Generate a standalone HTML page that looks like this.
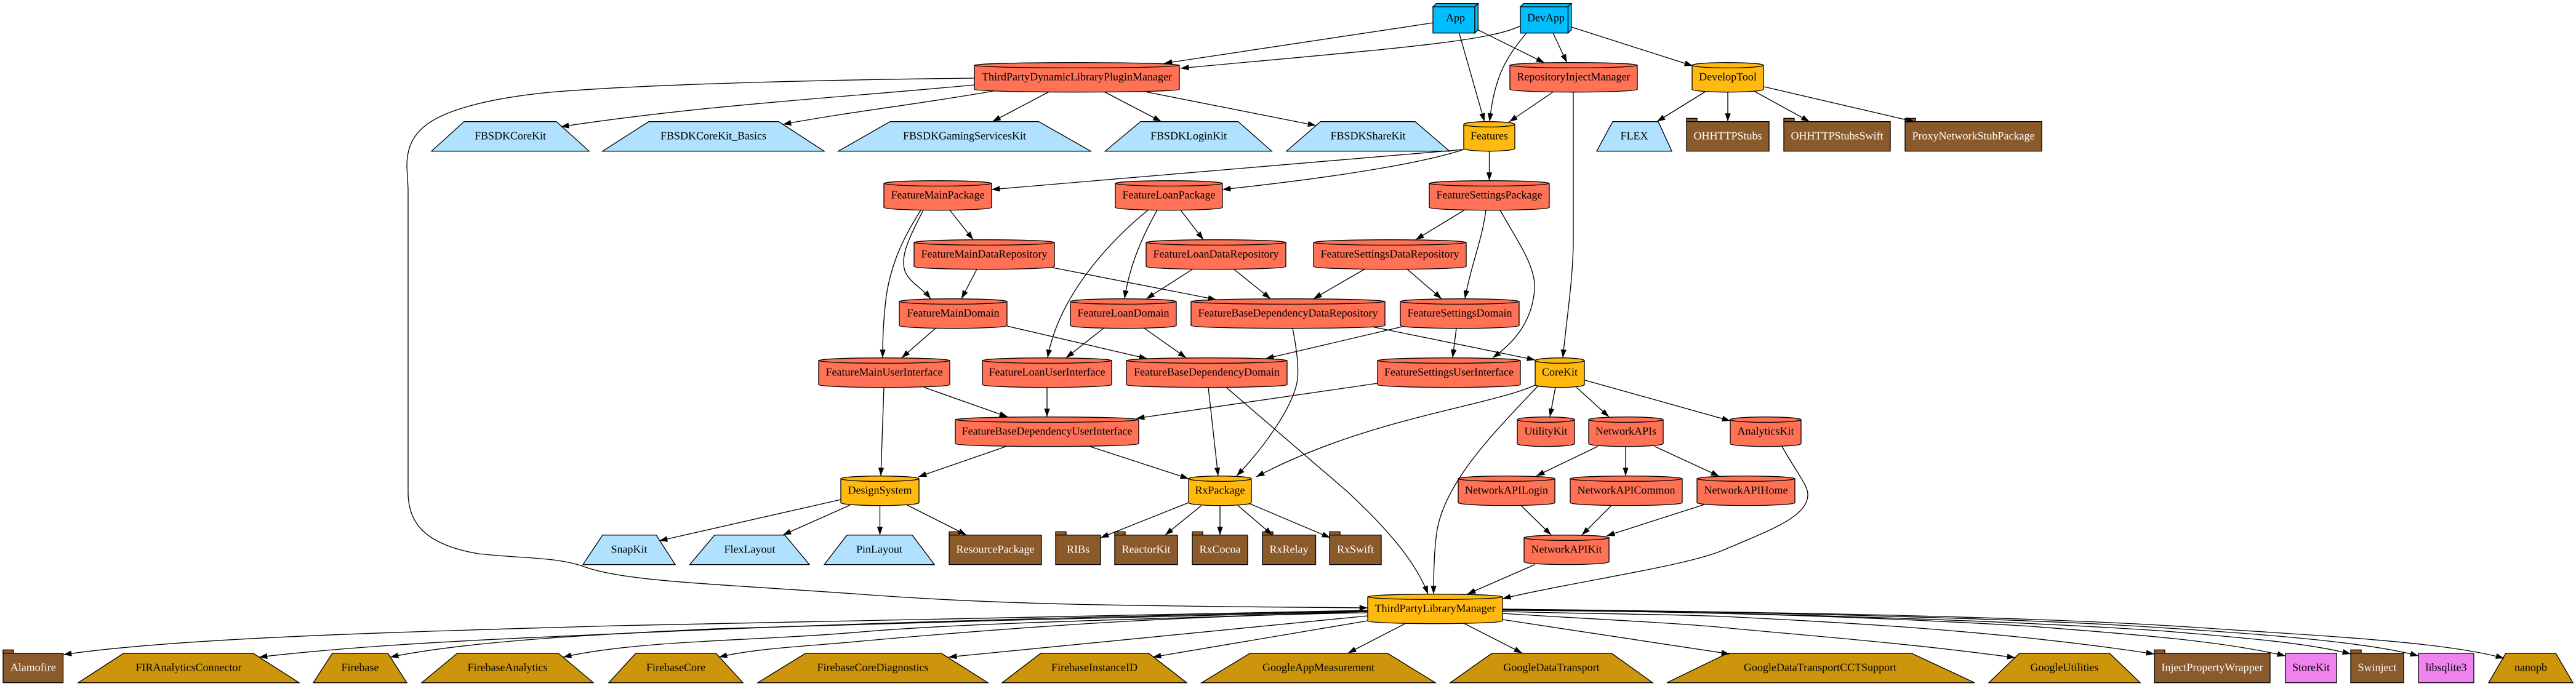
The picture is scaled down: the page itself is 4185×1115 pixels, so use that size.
<!DOCTYPE html>
<html lang="en">
<head>
<meta charset="utf-8">
<title>Dependency graph</title>
<style>
html,body{margin:0;padding:0;background:#fff;width:4185px;height:1115px;overflow:hidden}
svg{display:block}
.n path,.n rect{stroke:#000;stroke-width:1.33}
.n text{font-family:"Liberation Serif","Times New Roman",serif;font-size:18px;text-anchor:middle;fill:#000;stroke:none;text-rendering:geometricPrecision}
.r path{fill:#ff7256}
.o path{fill:#ffb90f}
.b path{fill:#b0e2ff}
.g path{fill:#cd950c}
.t path,.t rect{fill:#8b5a2b}
.t text{fill:#fff}
.d path{fill:#00bfff}
.v rect{fill:#ee82ee}
.e path{fill:none;stroke:#000;stroke-width:1.33;marker-end:url(#a)}
</style>
</head>
<body>
<svg xmlns="http://www.w3.org/2000/svg" width="4185" height="1115" viewBox="0 0 4185 1115">
<defs><marker id="a" markerUnits="userSpaceOnUse" markerWidth="16" markerHeight="12" refX="14" refY="6" orient="auto"><path d="M0.7 1.33L14 6L0.7 10.67Z" fill="#000"/></marker></defs>
<rect width="4185" height="1115" fill="#fff"/>

<g class="n">
<!-- Row 0 -->
<g transform="translate(0,5.67)">
<g class="d"><path d="M2328 5.33H2396V48H2328Z"/><path d="M2328 5.33L2333.33 0H2401.33L2396 5.33Z"/><path d="M2396 5.33L2401.33 0V42.67L2396 48Z"/><text x="2364.5" y="29">App</text></g>
<g class="d"><path d="M2470 5.33H2547.5V48H2470Z"/><path d="M2470 5.33L2475.33 0H2552.83L2547.5 5.33Z"/><path d="M2547.5 5.33L2552.83 0V42.67L2547.5 48Z"/><text x="2511.5" y="29">DevApp</text></g>
</g>
<!-- Row 1 -->
<g transform="translate(0,101.67)">
<g class="r"><path d="M1583 4.36A166.5 4.36 0 0 1 1916 4.36V43.64A166.5 4.36 0 0 1 1583 43.64ZM1916 4.36A166.5 4.36 0 0 1 1583 4.36"/><text x="1749.5" y="29">ThirdPartyDynamicLibraryPluginManager</text></g>
<g class="r"><path d="M2453 4.36A103.5 4.36 0 0 1 2660 4.36V43.64A103.5 4.36 0 0 1 2453 43.64ZM2660 4.36A103.5 4.36 0 0 1 2453 4.36"/><text x="2556.5" y="29">RepositoryInjectManager</text></g>
<g class="o"><path d="M2749 4.36A58 4.36 0 0 1 2865 4.36V43.64A58 4.36 0 0 1 2749 43.64ZM2865 4.36A58 4.36 0 0 1 2749 4.36"/><text x="2807" y="29">DevelopTool</text></g>
</g>
<!-- Row 2 -->
<g transform="translate(0,197.67)">
<g class="b"><path d="M754 0H904L957 48H701Z"/><text x="829" y="29">FBSDKCoreKit</text></g>
<g class="b"><path d="M1054 0H1265L1339 48H979Z"/><text x="1159" y="29">FBSDKCoreKit_Basics</text></g>
<g class="b"><path d="M1446 0H1687.5L1772 48H1362Z"/><text x="1567" y="29">FBSDKGamingServicesKit</text></g>
<g class="b"><path d="M1853 0H2011.5L2066 48H1795.5Z"/><text x="1931" y="29">FBSDKLoginKit</text></g>
<g class="b"><path d="M2145.5 0H2299L2355 48H2090Z"/><text x="2222.5" y="29">FBSDKShareKit</text></g>
<g class="o"><path d="M2378 4.36A41.5 4.36 0 0 1 2461 4.36V43.64A41.5 4.36 0 0 1 2378 43.64ZM2461 4.36A41.5 4.36 0 0 1 2378 4.36"/><text x="2419.5" y="29">Features</text></g>
<g class="b"><path d="M2620 0H2694L2716 48H2594Z"/><text x="2655" y="29">FLEX</text></g>
<g class="t"><rect x="2740" y="-5.33" width="17" height="5.33"/><rect x="2740" y="0" width="134" height="48"/><text x="2807" y="29">OHHTTPStubs</text></g>
<g class="t"><rect x="2898" y="-5.33" width="17" height="5.33"/><rect x="2898" y="0" width="173" height="48"/><text x="2984.5" y="29">OHHTTPStubsSwift</text></g>
<g class="t"><rect x="3095" y="-5.33" width="17" height="5.33"/><rect x="3095" y="0" width="222" height="48"/><text x="3206" y="29">ProxyNetworkStubPackage</text></g>
</g>
<!-- Row 3 -->
<g transform="translate(0,293.67)">
<g class="r"><path d="M1436 4.36A87.5 4.36 0 0 1 1611 4.36V43.64A87.5 4.36 0 0 1 1436 43.64ZM1611 4.36A87.5 4.36 0 0 1 1436 4.36"/><text x="1523.5" y="29">FeatureMainPackage</text></g>
<g class="r"><path d="M1812 4.36A87 4.36 0 0 1 1986 4.36V43.64A87 4.36 0 0 1 1812 43.64ZM1986 4.36A87 4.36 0 0 1 1812 4.36"/><text x="1899" y="29">FeatureLoanPackage</text></g>
<g class="r"><path d="M2322 4.36A97.5 4.36 0 0 1 2517 4.36V43.64A97.5 4.36 0 0 1 2322 43.64ZM2517 4.36A97.5 4.36 0 0 1 2322 4.36"/><text x="2419.5" y="29">FeatureSettingsPackage</text></g>
</g>
<!-- Row 4 -->
<g transform="translate(0,389.67)">
<g class="r"><path d="M1485 4.36A114 4.36 0 0 1 1713 4.36V43.64A114 4.36 0 0 1 1485 43.64ZM1713 4.36A114 4.36 0 0 1 1485 4.36"/><text x="1599" y="29">FeatureMainDataRepository</text></g>
<g class="r"><path d="M1862 4.36A113.5 4.36 0 0 1 2089 4.36V43.64A113.5 4.36 0 0 1 1862 43.64ZM2089 4.36A113.5 4.36 0 0 1 1862 4.36"/><text x="1975.5" y="29">FeatureLoanDataRepository</text></g>
<g class="r"><path d="M2134 4.36A124 4.36 0 0 1 2382 4.36V43.64A124 4.36 0 0 1 2134 43.64ZM2382 4.36A124 4.36 0 0 1 2134 4.36"/><text x="2258" y="29">FeatureSettingsDataRepository</text></g>
</g>
<!-- Row 5 -->
<g transform="translate(0,485.67)">
<g class="r"><path d="M1461 4.36A87.5 4.36 0 0 1 1636 4.36V43.64A87.5 4.36 0 0 1 1461 43.64ZM1636 4.36A87.5 4.36 0 0 1 1461 4.36"/><text x="1548.5" y="29">FeatureMainDomain</text></g>
<g class="r"><path d="M1739 4.36A86 4.36 0 0 1 1911 4.36V43.64A86 4.36 0 0 1 1739 43.64ZM1911 4.36A86 4.36 0 0 1 1739 4.36"/><text x="1825" y="29">FeatureLoanDomain</text></g>
<g class="r"><path d="M1935 4.36A157.5 4.36 0 0 1 2250 4.36V43.64A157.5 4.36 0 0 1 1935 43.64ZM2250 4.36A157.5 4.36 0 0 1 1935 4.36"/><text x="2092.5" y="29">FeatureBaseDependencyDataRepository</text></g>
<g class="r"><path d="M2275 4.36A96.5 4.36 0 0 1 2468 4.36V43.64A96.5 4.36 0 0 1 2275 43.64ZM2468 4.36A96.5 4.36 0 0 1 2275 4.36"/><text x="2371.5" y="29">FeatureSettingsDomain</text></g>
</g>
<!-- Row 6 -->
<g transform="translate(0,581.67)">
<g class="r"><path d="M1330 4.36A106.5 4.36 0 0 1 1543 4.36V43.64A106.5 4.36 0 0 1 1330 43.64ZM1543 4.36A106.5 4.36 0 0 1 1330 4.36"/><text x="1436.5" y="29">FeatureMainUserInterface</text></g>
<g class="r"><path d="M1596 4.36A105 4.36 0 0 1 1806 4.36V43.64A105 4.36 0 0 1 1596 43.64ZM1806 4.36A105 4.36 0 0 1 1596 4.36"/><text x="1701" y="29">FeatureLoanUserInterface</text></g>
<g class="r"><path d="M1830 4.36A130.5 4.36 0 0 1 2091 4.36V43.64A130.5 4.36 0 0 1 1830 43.64ZM2091 4.36A130.5 4.36 0 0 1 1830 4.36"/><text x="1960.5" y="29">FeatureBaseDependencyDomain</text></g>
<g class="r"><path d="M2238 4.36A116 4.36 0 0 1 2470 4.36V43.64A116 4.36 0 0 1 2238 43.64ZM2470 4.36A116 4.36 0 0 1 2238 4.36"/><text x="2354" y="29">FeatureSettingsUserInterface</text></g>
<g class="o"><path d="M2494 4.36A40 4.36 0 0 1 2574 4.36V43.64A40 4.36 0 0 1 2494 43.64ZM2574 4.36A40 4.36 0 0 1 2494 4.36"/><text x="2534" y="29">CoreKit</text></g>
</g>
<!-- Row 7 -->
<g transform="translate(0,677.67)">
<g class="r"><path d="M1552 4.36A149 4.36 0 0 1 1850 4.36V43.64A149 4.36 0 0 1 1552 43.64ZM1850 4.36A149 4.36 0 0 1 1552 4.36"/><text x="1701" y="29">FeatureBaseDependencyUserInterface</text></g>
<g class="r"><path d="M2465 4.36A46.5 4.36 0 0 1 2558 4.36V43.64A46.5 4.36 0 0 1 2465 43.64ZM2558 4.36A46.5 4.36 0 0 1 2465 4.36"/><text x="2511.5" y="29">UtilityKit</text></g>
<g class="r"><path d="M2581 4.36A60.5 4.36 0 0 1 2702 4.36V43.64A60.5 4.36 0 0 1 2581 43.64ZM2702 4.36A60.5 4.36 0 0 1 2581 4.36"/><text x="2641.5" y="29">NetworkAPIs</text></g>
<g class="r"><path d="M2811 4.36A57.5 4.36 0 0 1 2926 4.36V43.64A57.5 4.36 0 0 1 2811 43.64ZM2926 4.36A57.5 4.36 0 0 1 2811 4.36"/><text x="2868.5" y="29">AnalyticsKit</text></g>
</g>
<!-- Row 8 -->
<g transform="translate(0,773.67)">
<g class="o"><path d="M1366 4.36A63.5 4.36 0 0 1 1493 4.36V43.64A63.5 4.36 0 0 1 1366 43.64ZM1493 4.36A63.5 4.36 0 0 1 1366 4.36"/><text x="1429.5" y="29">DesignSystem</text></g>
<g class="o"><path d="M1931 4.36A51 4.36 0 0 1 2033 4.36V43.64A51 4.36 0 0 1 1931 43.64ZM2033 4.36A51 4.36 0 0 1 1931 4.36"/><text x="1982" y="29">RxPackage</text></g>
<g class="r"><path d="M2369 4.36A78.5 4.36 0 0 1 2526 4.36V43.64A78.5 4.36 0 0 1 2369 43.64ZM2526 4.36A78.5 4.36 0 0 1 2369 4.36"/><text x="2447.5" y="29">NetworkAPILogin</text></g>
<g class="r"><path d="M2551 4.36A91 4.36 0 0 1 2733 4.36V43.64A91 4.36 0 0 1 2551 43.64ZM2733 4.36A91 4.36 0 0 1 2551 4.36"/><text x="2642" y="29">NetworkAPICommon</text></g>
<g class="r"><path d="M2757 4.36A79.5 4.36 0 0 1 2916 4.36V43.64A79.5 4.36 0 0 1 2757 43.64ZM2916 4.36A79.5 4.36 0 0 1 2757 4.36"/><text x="2836.5" y="29">NetworkAPIHome</text></g>
</g>
<!-- Row 9 -->
<g transform="translate(0,869.67)">
<g class="b"><path d="M979 0H1066L1097 48H947Z"/><text x="1022" y="29">SnapKit</text></g>
<g class="b"><path d="M1161 0H1275L1315 48H1120.5Z"/><text x="1218" y="29">FlexLayout</text></g>
<g class="b"><path d="M1376 0H1482L1518 48H1339Z"/><text x="1428.5" y="29">PinLayout</text></g>
<g class="t"><rect x="1542" y="-5.33" width="17" height="5.33"/><rect x="1542" y="0" width="150" height="48"/><text x="1617" y="29">ResourcePackage</text></g>
<g class="t"><rect x="1715" y="-5.33" width="17" height="5.33"/><rect x="1715" y="0" width="73" height="48"/><text x="1751.5" y="29">RIBs</text></g>
<g class="t"><rect x="1811" y="-5.33" width="17" height="5.33"/><rect x="1811" y="0" width="102" height="48"/><text x="1862" y="29">ReactorKit</text></g>
<g class="t"><rect x="1937" y="-5.33" width="17" height="5.33"/><rect x="1937" y="0" width="90" height="48"/><text x="1982" y="29">RxCocoa</text></g>
<g class="t"><rect x="2051" y="-5.33" width="17" height="5.33"/><rect x="2051" y="0" width="86.5" height="48"/><text x="2094" y="29">RxRelay</text></g>
<g class="t"><rect x="2160" y="-5.33" width="17" height="5.33"/><rect x="2160" y="0" width="84" height="48"/><text x="2202" y="29">RxSwift</text></g>
<g class="r"><path d="M2476 4.36A69 4.36 0 0 1 2614 4.36V43.64A69 4.36 0 0 1 2476 43.64ZM2614 4.36A69 4.36 0 0 1 2476 4.36"/><text x="2545" y="29">NetworkAPIKit</text></g>
</g>
<!-- Row 10 -->
<g transform="translate(0,965.67)">
<g class="o"><path d="M2222 4.36A109.5 4.36 0 0 1 2441 4.36V43.64A109.5 4.36 0 0 1 2222 43.64ZM2441 4.36A109.5 4.36 0 0 1 2222 4.36"/><text x="2331.5" y="29">ThirdPartyLibraryManager</text></g>
</g>
<!-- Row 11 -->
<g transform="translate(0,1061.67)">
<g class="t"><rect x="5" y="-5.33" width="17" height="5.33"/><rect x="5" y="0" width="97.5" height="48"/><text x="53.75" y="29">Alamofire</text></g>
<g class="g"><path d="M201 0H411L486 48H127Z"/><text x="306.5" y="29">FIRAnalyticsConnector</text></g>
<g class="g"><path d="M540 0H630L661 48H509Z"/><text x="585" y="29">Firebase</text></g>
<g class="g"><path d="M743 0H907L964 48H685Z"/><text x="824.5" y="29">FirebaseAnalytics</text></g>
<g class="g"><path d="M1033 0H1163L1207 48H989Z"/><text x="1098" y="29">FirebaseCore</text></g>
<g class="g"><path d="M1309 0H1529L1605 48H1231Z"/><text x="1418" y="29">FirebaseCoreDiagnostics</text></g>
<g class="g"><path d="M1691 0H1866L1928 48H1628Z"/><text x="1778" y="29">FirebaseInstanceID</text></g>
<g class="g"><path d="M2031 0H2254L2332 48H1952Z"/><text x="2142" y="29">GoogleAppMeasurement</text></g>
<g class="g"><path d="M2424 0H2618L2685 48H2356Z"/><text x="2520.5" y="29">GoogleDataTransport</text></g>
<g class="g"><path d="M2807 0H3105L3208 48H2708Z"/><text x="2957" y="29">GoogleDataTransportCCTSupport</text></g>
<g class="g"><path d="M3281 0H3427L3477 48H3231Z"/><text x="3354" y="29">GoogleUtilities</text></g>
<g class="t"><rect x="3500" y="-5.33" width="17" height="5.33"/><rect x="3500" y="0" width="188" height="48"/><text x="3594" y="29">InjectPropertyWrapper</text></g>
<g class="v"><rect x="3713" y="0" width="83" height="48"/><text x="3754.5" y="29">StoreKit</text></g>
<g class="t"><rect x="3819" y="-5.33" width="17" height="5.33"/><rect x="3819" y="0" width="86" height="48"/><text x="3862" y="29">Swinject</text></g>
<g class="v"><rect x="3929" y="0" width="90" height="48"/><text x="3974" y="29">libsqlite3</text></g>
<g class="g"><path d="M4071 0H4152L4180 48H4043Z"/><text x="4111.5" y="29">nanopb</text></g>
</g>
</g>

<g class="e">
<path d="M2328.6 37L1891 103"/>
<path d="M2470 42C2420 68 2250 80 1918 111"/>
<path d="M2370.5 53.5L2411.6 197.5"/>
<path d="M2400 48L2509 102"/>
<path d="M2480 53.5C2450 90 2428 120 2420 197.5"/>
<path d="M2523 53.5L2545.5 101.5"/>
<path d="M2553 44L2750 107"/>
<path d="M1703.6 149.5L1612.5 197.5"/>
<path d="M1794.6 149.5L1886.6 197.5"/>
<path d="M1862.5 149.5L2138 204"/>
<path d="M1583 138C1350 160 1150 170 911 206"/>
<path d="M1614 148C1500 168 1380 182 1272 202"/>
<path d="M1583 127C1400 129 1071 135 893 150C790 160 720 180 690 205C665 225 661 250 661 270L663 307L663 800C663 850 690 885 777 900C850 908 900 905 946 920C1010 945 1150 948 1400 966C1650 985 1900 985 2222 988"/>
<path d="M2523 149.5L2452 198"/>
<path d="M2556 149.5L2556 390C2556 450 2545 520 2539 581.5"/>
<path d="M2770.5 149L2692 197.5"/>
<path d="M2807 149.5L2807 197.5"/>
<path d="M2849.5 148L2939.6 197.5"/>
<path d="M2866 141L3111 198"/>
<path d="M2378 243L1611 308"/>
<path d="M2378 243C2320 262 2200 285 1986 308"/>
<path d="M2419.5 245.7L2419.5 293.5"/>
<path d="M1543 341.5L1581 389.5"/>
<path d="M1500 341.5C1478 385 1462 415 1470 440C1476 458 1498 468 1512 485.5"/>
<path d="M1496 341.5C1465 390 1448 430 1440 480C1435 520 1434 550 1434 581.5"/>
<path d="M1918 341.5L1955 389.5"/>
<path d="M1880 341.5C1858 380 1835 430 1827 485.5"/>
<path d="M1865 341.5C1805 390 1720 480 1702 581.5"/>
<path d="M2379 341.5L2300 389.5"/>
<path d="M2414 341.5C2408 390 2390 430 2380 485.5"/>
<path d="M2437 341.5C2470 400 2500 440 2492 480C2485 530 2455 560 2425 581.5"/>
<path d="M1587 437.5L1562 485.5"/>
<path d="M1710 435L1976 487"/>
<path d="M1937.5 437.5L1862.5 485.5"/>
<path d="M2004.5 437.5L2064 485.5"/>
<path d="M2217 437.5L2134 485.5"/>
<path d="M2286 437.5L2342 485.5"/>
<path d="M1520 533.5L1465 581.5"/>
<path d="M1636 530L1864 583"/>
<path d="M1793 533.5L1732 581.5"/>
<path d="M1859 533.5L1927 581.5"/>
<path d="M2228.6 531L2494 585"/>
<path d="M2100 533.5C2108 575 2112 610 2105 630C2095 665 2060 720 2009 773.5"/>
<path d="M2278 531L2056 583"/>
<path d="M2366 533.5L2360 581.5"/>
<path d="M2238 623L1846 680"/>
<path d="M1501 629.5L1637 677.5"/>
<path d="M1436 629.5L1431 773.5"/>
<path d="M1701 629.5L1701 677.5"/>
<path d="M1963 629.5L1979 773.5"/>
<path d="M1992 629.5L2190 800C2230 838 2295 900 2320 965.5"/>
<path d="M2494 626C2420 660 2220 680 2041 775"/>
<path d="M2499 627C2430 700 2350 780 2335 860C2330 890 2329 930 2329 965.5"/>
<path d="M2527 629.5L2518 677.5"/>
<path d="M2561 629.5L2614 677.5"/>
<path d="M2575 618L2811 684"/>
<path d="M1635 725.5L1492 775"/>
<path d="M1770 725.5L1931 778"/>
<path d="M2596 725.5L2496 773.5"/>
<path d="M2641 725.5L2641 773.5"/>
<path d="M2688 725.5L2793 774"/>
<path d="M2895 725.5C2920 770 2938 790 2937 805C2935 840 2880 860 2800 894C2740 920 2560 945 2441 973"/>
<path d="M1366 812L1071 879"/>
<path d="M1381 821L1272 869.5"/>
<path d="M1429.5 821.5L1429.5 869.5"/>
<path d="M1474 821L1570 869.5"/>
<path d="M1931 817L1788 874"/>
<path d="M1952 821.5L1893 869.5"/>
<path d="M1982 821.5L1982 869.5"/>
<path d="M2011 821.5L2067 869.5"/>
<path d="M2031 819L2161 874"/>
<path d="M2471 821.5L2520 869.5"/>
<path d="M2618 821.5L2570 869.5"/>
<path d="M2769 820L2610 871"/>
<path d="M2494 917.5L2384 965.5"/>
<path d="M2222 992C1900 998 1500 1003 1000 1017C700 1026 300 1035 103 1064"/>
<path d="M2222 993C1900 1000 1500 1008 1071 1027C850 1037 620 1045 421 1068"/>
<path d="M2222 994C1900 1000 1500 1012 1161 1022C1000 1030 770 1040 634 1068"/>
<path d="M2222 994C1950 1005 1600 1010 1400 1027C1230 1042 1040 1040 915 1068"/>
<path d="M2222 996C1950 1000 1700 1015 1400 1042C1320 1050 1230 1053 1168 1068"/>
<path d="M2222 1001L1541 1068"/>
<path d="M2222 1009L1873 1068"/>
<path d="M2284 1013L2190 1061.5"/>
<path d="M2378 1013L2473 1061.5"/>
<path d="M2441 1007L2810 1063"/>
<path d="M2441 997C2560 1005 2720 1012 2800 1020C2900 1030 3100 1045 3274 1069"/>
<path d="M2441 994C2600 998 2700 998 2800 1002C3000 1012 3250 1025 3500 1063"/>
<path d="M2441 992C2700 993 3000 1000 3300 1018C3450 1030 3600 1040 3713 1066"/>
<path d="M2441 991C2800 995 3200 1005 3507 1025C3650 1037 3750 1045 3819 1063"/>
<path d="M2441 990C2800 994 3250 1003 3507 1020C3700 1032 3850 1045 3929 1066"/>
<path d="M2441 990C2800 994 3300 1000 3600 1022C3800 1035 3980 1045 4068 1070"/>
</g>
</svg>
</body>
</html>
